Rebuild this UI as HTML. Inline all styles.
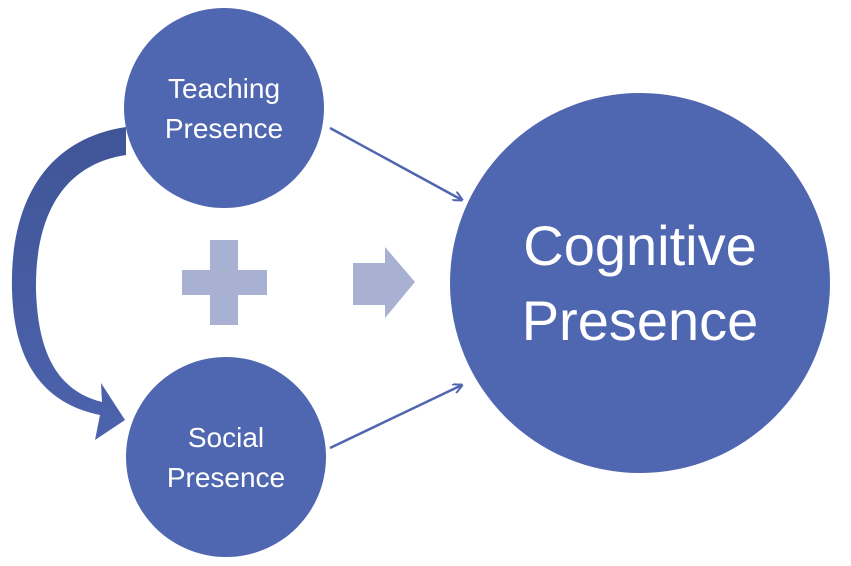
<!DOCTYPE html>
<html><head><style>body{margin:0;background:#fff}svg{display:block}</style></head><body>
<svg width="851" height="566" viewBox="0 0 851 566" xmlns="http://www.w3.org/2000/svg" font-family="Liberation Sans, sans-serif">
<defs>
<marker id="ah" markerWidth="10" markerHeight="10" refX="9" refY="5" orient="auto" markerUnits="userSpaceOnUse"><path d="M0,0 L10,5 L0,10" fill="none" stroke="#4f66b0" stroke-width="2"/></marker>
<linearGradient id="g" x1="0" y1="0" x2="0" y2="1"><stop offset="0" stop-color="#3f5597"/><stop offset="1" stop-color="#4c63ad"/></linearGradient>
</defs>
<path d="M126,127 C40,140 10,210 12,290 C14,370 50,405 100,415 L95,440 L125,420 L101,383 L102,402 C62,392 38,360 36,290 C35,220 60,165 126,155 Z" fill="url(#g)"/>
<circle cx="224" cy="108" r="100" fill="#4f66b0"/>
<circle cx="226" cy="457" r="100" fill="#4f66b0"/>
<circle cx="640" cy="283" r="190" fill="#4f66b0"/>
<line x1="330" y1="128" x2="462" y2="200" stroke="#4f66b0" stroke-width="2.5" marker-end="url(#ah)"/>
<line x1="330" y1="448" x2="462" y2="385" stroke="#4f66b0" stroke-width="2.5" marker-end="url(#ah)"/>
<rect x="210" y="240" width="28" height="85" fill="#a9b1d2"/>
<rect x="182" y="270" width="85" height="25" fill="#a9b1d2"/>
<path d="M353,263 L385,263 L385,247 L415,282 L385,318 L385,305 L353,305 Z" fill="#a9b1d2"/>
<g fill="#fff" text-anchor="middle">
<text x="224" y="98" font-size="28">Teaching</text>
<text x="224" y="138" font-size="28">Presence</text>
<text x="226" y="447" font-size="28">Social</text>
<text x="226" y="487" font-size="28">Presence</text>
<text x="640" y="265" font-size="56">Cognitive</text>
<text x="640" y="340" font-size="56">Presence</text>
</g>
</svg>
</body></html>
